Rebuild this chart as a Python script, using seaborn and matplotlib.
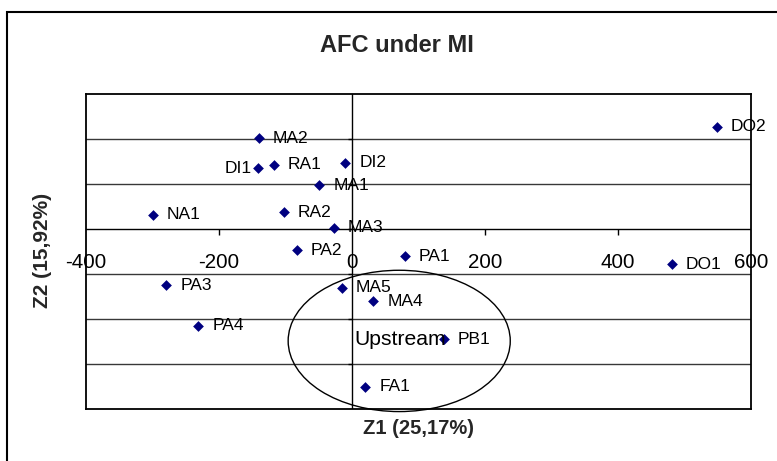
"""AFC under MI - factor map Z1 / Z2"""

import pandas as pd
import numpy as np
import matplotlib.pyplot as plt
import seaborn as sb
from matplotlib.patches import Ellipse, Rectangle

# point names and coordinates
labels = ['MA2', 'DI1', 'RA1', 'DI2', 'MA1', 'NA1', 'RA2', 'MA3', 'PA2',
          'PA1', 'MA5', 'MA4', 'PB1', 'FA1', 'DO2', 'DO1', 'PA3', 'PA4']
z1 = [-140, -142, -118, -10, -49, -299, -103, -27, -83,
      79, -15, 32, 138, 20, 549, 481, -279, -231]
z2 = [101, 68, 72, 74, 49, 16, 19, 2, -23,
      -30, -65, -80, -122, -175, 114, -39, -62, -107]

x_ticks = [-400, -200, 0, 200, 400, 600]
y_grid = [-150, -100, -50, 50, 100]
y_ticks = [-150, -100, -50, 0, 50, 100]

# ellipse around the upstream group
upstream_center = (71, -124)
upstream_size = (334, 157)

data = pd.DataFrame({'label': labels, 'z1': z1, 'z2': z2})

sb.set_theme(style='white')
plt.rcParams['font.family'] = ['Liberation Sans', 'DejaVu Sans']

fig = plt.figure(figsize=(7.77, 4.61), dpi=100)
ax = fig.add_axes([0.1107, 0.1121, 0.8558, 0.6833])

ax.set_xlim(-400, 600)
ax.set_ylim(-200, 150)
ax.set_xticks([])
ax.set_yticks([])

for y in y_grid:
    ax.axhline(y, color='#383838', lw=1.0, zorder=1)
ax.axhline(0, color='black', lw=1.0, zorder=1)
ax.axvline(0, color='black', lw=1.0, zorder=1)

# small tick marks on the zero axes
ax.plot([t for t in x_ticks[1:-1] if t != 0], [0] * 3, ls='none',
        marker=3, ms=4.5, mec='black', mew=1.0, zorder=2)
ax.plot([0] * len(y_ticks), y_ticks, ls='none',
        marker=0, ms=3, mec='black', mew=1.0, zorder=2)

for t in x_ticks:
    ax.annotate(str(t), (t, 0), xytext=(0, -27.6), textcoords='offset points',
                ha='center', va='baseline', fontsize=14.8, color='black',
                annotation_clip=False)

for sp in ax.spines.values():
    sp.set_color('black')
    sp.set_linewidth(1.3)

sb.scatterplot(data=data, x='z1', y='z2', marker='D', color='#000080',
               s=30, linewidth=0, ax=ax, zorder=3, legend=False)

for _, row in data.iterrows():
    if row['label'] == 'DI1':
        off, ha = -4.5, 'right'
    else:
        off, ha = 10.0, 'left'
    ax.annotate(row['label'], (row['z1'], row['z2']), xytext=(off, 0),
                textcoords='offset points', ha=ha, va='center',
                fontsize=12.5, color='black', zorder=4)

ax.add_patch(Ellipse(upstream_center, upstream_size[0], upstream_size[1],
                     fill=False, edgecolor='black', lw=1.0, clip_on=False,
                     zorder=2))
ax.text(3, -122, 'Upstream', ha='left', va='center', fontsize=15.2,
        color='black', zorder=4)

ax.set_xlabel('')
ax.set_ylabel('')

fig.text(0.5103, 0.8879, 'AFC under MI', ha='center', va='baseline',
         fontsize=17, fontweight='bold')
fig.text(0.538, 0.0586, 'Z1 (25,17%)', ha='center', va='baseline',
         fontsize=14.5, fontweight='bold')
fig.text(0.0553, 0.4577, 'Z2 (15,92%)', ha='center', va='center',
         rotation=90, fontsize=15, fontweight='bold')

# outer chart border (runs off the right and bottom edges)
fig.add_artist(Rectangle((7 / 777, -0.5), 1.5, 0.5 + 0.9733,
                         transform=fig.transFigure, fill=False,
                         edgecolor='black', lw=1.5))

fig.savefig('out.png', dpi=100)
